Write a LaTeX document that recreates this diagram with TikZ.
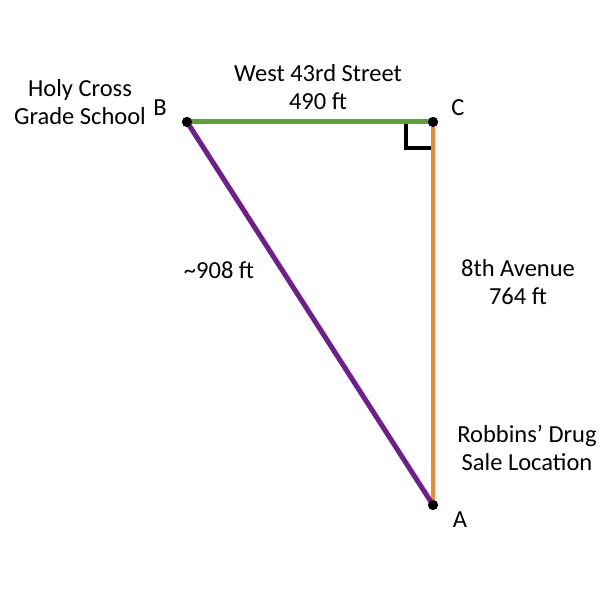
\documentclass[tikz,border=0pt]{standalone}
\usepackage{fontspec}
\setmainfont{Carlito}
\definecolor{streetgreen}{RGB}{94,160,52}
\definecolor{avenueorange}{RGB}{240,138,46}
\definecolor{hypopurple}{RGB}{112,30,140}
\tikzset{
  vertex/.style={circle, fill=black, inner sep=0pt, minimum size=10pt},
  lbl/.style={font=\fontsize{24.5}{28}\selectfont, align=center, inner sep=0pt}
}
\begin{document}
\begin{tikzpicture}[x=1pt, y=-1pt]
\useasboundingbox (0,0) rectangle (600,601);
\node [vertex] (B) at (187,122) {};
\node [vertex] (C) at (433,122) {};
\node [vertex] (A) at (433,505) {};
\draw [streetgreen, line width=5pt] (B.center) -- (C.center);
\draw [avenueorange, line width=4pt] (C.center) -- (A.center);
\draw [hypopurple, line width=5pt] (B.center) -- (A.center);
\draw [black, line width=4pt] (406,124) -- (406,148) -- (431,148);
\node [vertex] at (B) {};
\node [vertex] at (C) {};
\node [vertex] at (A) {};
\node [lbl] (labB) at (160,108) {B};
\node [lbl] (labC) at (458,108) {C};
\node [lbl] (labA) at (460,520) {A};
\node [lbl] (school) at (80,102) {Holy Cross\\Grade School};
\node [lbl] (street) at (318,87) {West 43rd Street\\490 ft};
\node [lbl] (hypo) at (219,270) {\char"007E 908 ft};
\node [lbl] (avenue) at (518,282) {8th Avenue\\764 ft};
\node [lbl] (drug) at (527,448) {Robbins’ Drug\\Sale Location};
\end{tikzpicture}
\end{document}
